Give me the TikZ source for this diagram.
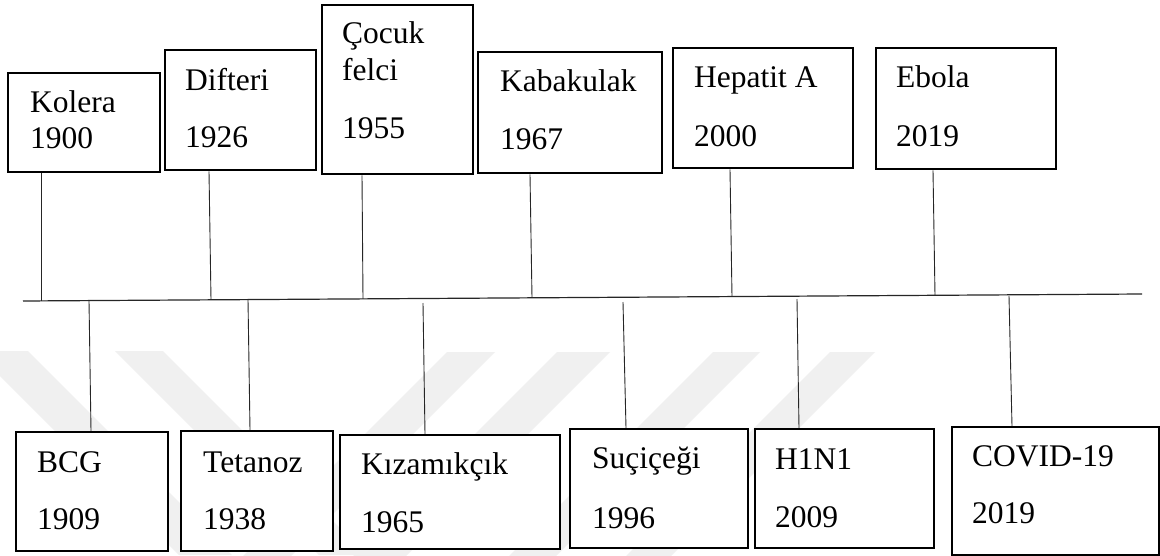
\documentclass[tikz,border=0pt]{standalone}
\usepackage{fontspec}
\setmainfont{Liberation Serif}
\begin{document}
\begin{tikzpicture}[x=1pt,y=-1pt,
  box/.style={draw=black, fill=white, line width=2.3pt, inner sep=0pt, anchor=north west},
  lbl/.style={anchor=base west, inner sep=0pt, font=\fontsize{31.5}{31.5}\selectfont},
  conn/.style={draw=black!85, line width=0.9pt},
  axis/.style={draw=black!85, line width=1.2pt},
  wmark/.style={fill=black!6, draw=none}]
\useasboundingbox (0,0) rectangle (1160,555);
\fill[white] (0,0) rectangle (1160,555);
% faint watermark bands
\fill[wmark] (-25,351) -- (28,351) -- (232,555) -- (179,555) -- cycle;
\fill[wmark] (115,351) -- (163,351) -- (367,555) -- (319,555) -- cycle;
\fill[wmark] (447,352) -- (495,352) -- (291,556) -- (243,556) -- cycle;
\fill[wmark] (557,352) -- (610,352) -- (406,556) -- (353,556) -- cycle;
\fill[wmark] (713,352) -- (760,352) -- (556,556) -- (509,556) -- cycle;
\fill[wmark] (830,352) -- (875,352) -- (671,556) -- (626,556) -- cycle;
% timeline
\coordinate (tlL) at (23,301);
\coordinate (tlR) at (1142,294);
\draw[axis] (tlL) -- (tlR);
% top boxes
\node[box, minimum width=152pt, minimum height=99pt] (kolera) at (7,72) {};
\node[box, minimum width=151pt, minimum height=120pt] (difteri) at (164,49) {};
\node[box, minimum width=151pt, minimum height=169pt] (cocuk) at (321,4) {};
\node[box, minimum width=184pt, minimum height=121pt] (kabakulak) at (477,51) {};
\node[box, minimum width=180pt, minimum height=120pt] (hepatit) at (672,47) {};
\node[box, minimum width=180pt, minimum height=121pt] (ebola) at (875,47) {};
% bottom boxes
\node[box, minimum width=152pt, minimum height=119pt] (bcg) at (15,431) {};
\node[box, minimum width=152pt, minimum height=120pt] (tetanoz) at (180,430) {};
\node[box, minimum width=220pt, minimum height=114pt] (kizam) at (339,434) {};
\node[box, minimum width=178pt, minimum height=119pt] (sucicegi) at (569,428) {};
\node[box, minimum width=179pt, minimum height=119pt] (hini) at (754,428) {};
\node[box, minimum width=207pt, minimum height=128pt] (covid) at (951,426) {};
% texts
\node[lbl] (kolera1) at (30,112) {Kolera};
\node[lbl] (kolera2) at (30,148) {1900};
\node[lbl] (difteri1) at (185,90) {Difteri};
\node[lbl] (difteri2) at (185,147) {1926};
\node[lbl] (cocuk1) at (342,43) {Çocuk};
\node[lbl] (cocuk2) at (342,80) {felci};
\node[lbl] (cocuk3) at (342,138) {1955};
\node[lbl] (kabakulak1) at (500,91) {Kabakulak};
\node[lbl] (kabakulak2) at (500,149) {1967};
\node[lbl] (hepatit1) at (694,87) {Hepatit A};
\node[lbl] (hepatit2) at (694,146) {2000};
\node[lbl] (ebola1) at (896,87) {Ebola};
\node[lbl] (ebola2) at (896,146) {2019};
\node[lbl] (bcg1) at (37,472) {BCG};
\node[lbl] (bcg2) at (37,529) {1909};
\node[lbl] (tetanoz1) at (203,472) {Tetanoz};
\node[lbl] (tetanoz2) at (203,529) {1938};
\node[lbl] (kizam1) at (361,474) {Kızamıkçık};
\node[lbl] (kizam2) at (361,532) {1965};
\node[lbl] (sucicegi1) at (592,468) {Suçiçeği};
\node[lbl] (sucicegi2) at (592,528) {1996};
\node[lbl] (hini1) at (775,469) {H1N1};
\node[lbl] (hini2) at (775,527) {2009};
\node[lbl] (covid1) at (972,466) {COVID-19};
\node[lbl] (covid2) at (972,523) {2019};
% timeline anchor points
\coordinate (pKolera) at (41,300.9);
\coordinate (pDifteri) at (211,299.8);
\coordinate (pCocuk) at (363,298.9);
\coordinate (pKabakulak) at (532,297.8);
\coordinate (pHepatit) at (732,296.6);
\coordinate (pEbola) at (935,295.3);
\coordinate (pBcg) at (89,300.6);
\coordinate (pTetanoz) at (248,299.6);
\coordinate (pKizam) at (423,303);
\coordinate (pSucicegi) at (623,302);
\coordinate (pHini) at (797,299);
\coordinate (pCovid) at (1009,296);
% connectors, top
\draw[conn] ([xshift=34pt]kolera.south west) -- (pKolera);
\draw[conn] ([xshift=45pt]difteri.south west) -- (pDifteri);
\draw[conn] ([xshift=41pt]cocuk.south west) -- (pCocuk);
\draw[conn] ([xshift=53pt]kabakulak.south west) -- (pKabakulak);
\draw[conn] ([xshift=58pt]hepatit.south west) -- (pHepatit);
\draw[conn] ([xshift=58pt]ebola.south west) -- (pEbola);
% connectors, bottom
\draw[conn] (pBcg) -- ([xshift=76pt]bcg.north west);
\draw[conn] (pTetanoz) -- ([xshift=70pt]tetanoz.north west);
\draw[conn] (pKizam) -- ([xshift=86pt]kizam.north west);
\draw[conn] (pSucicegi) -- ([xshift=57pt]sucicegi.north west);
\draw[conn] (pHini) -- ([xshift=45pt]hini.north west);
\draw[conn] (pCovid) -- ([xshift=61pt]covid.north west);
\end{tikzpicture}
\end{document}
